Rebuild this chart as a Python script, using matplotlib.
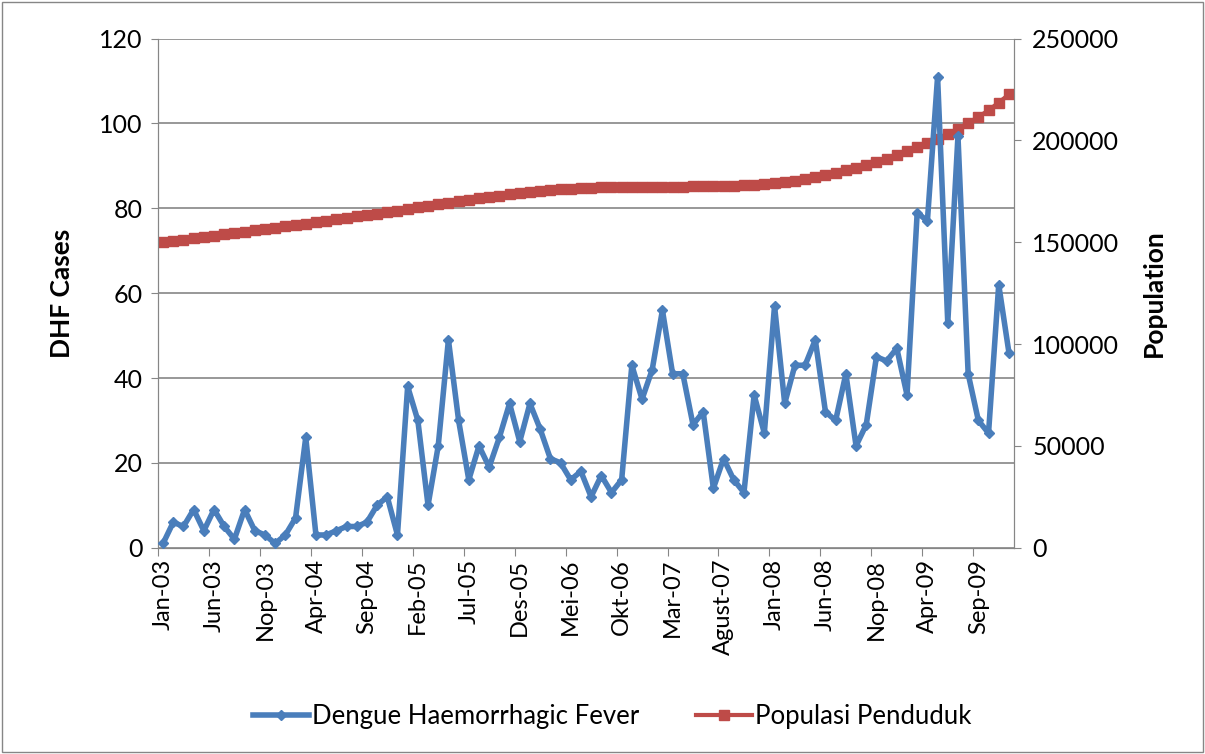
import matplotlib.pyplot as plt
from matplotlib.patches import Rectangle

plt.rcParams['font.family'] = ['Lato', 'DejaVu Sans']

# monthly data, Jan 2003 .. Dec 2009
months = ['Jan-03', 'Jun-03', 'Nop-03', 'Apr-04', 'Sep-04', 'Feb-05', 'Jul-05',
          'Des-05', 'Mei-06', 'Okt-06', 'Mar-07', 'Agust-07', 'Jan-08', 'Jun-08',
          'Nop-08', 'Apr-09', 'Sep-09']

dhf_cases = [1, 6, 5, 9, 4, 9, 5, 2, 9, 4,
             3, 1, 3, 7, 26, 3, 3, 4, 5, 5,
             6, 10, 12, 3, 38, 30, 10, 24, 49, 30,
             16, 24, 19, 26, 34, 25, 34, 28, 21, 20,
             16, 18, 12, 17, 13, 16, 43, 35, 42, 56,
             41, 41, 29, 32, 14, 21, 16, 13, 36, 27,
             57, 34, 43, 43, 49, 32, 30, 41, 24, 29,
             45, 44, 47, 36, 79, 77, 111, 53, 97, 41,
             30, 27, 62, 46]

population = [150000, 150650, 151300, 151950, 152600, 153250, 153900, 154550,
              155200, 155850, 156500, 157150, 157800, 158500, 159200, 159900,
              160600, 161300, 162000, 162700, 163400, 164100, 164800, 165500,
              166300, 167100, 167900, 168700, 169400, 170100, 170800, 171500,
              172200, 172900, 173500, 174100, 174600, 175100, 175600, 176000,
              176300, 176600, 176800, 177000, 177100, 177200, 177200, 177200,
              177200, 177200, 177200, 177300, 177400, 177500, 177600, 177700,
              177800, 178000, 178300, 178600, 179000, 179600, 180300, 181100,
              182000, 183000, 184100, 185300, 186600, 188000, 189500, 191100,
              192800, 194600, 196600, 198700, 200900, 203200, 205700, 208500,
              211500, 214800, 218600, 222600]

x = list(range(len(dhf_cases)))
grey = '#868686'
blue = '#4A7EBB'
red = '#BE4B48'

fig = plt.figure(figsize=(12.05, 7.54), dpi=100)
fig.patches.append(Rectangle((0.002, 0.002), 0.996, 0.996, transform=fig.transFigure,
                             fill=False, edgecolor=grey, linewidth=1))

ax = fig.add_axes([0.1311, 0.2736, 0.7104, 0.6752])
ax2 = ax.twinx()
ax3 = ax.twinx()  # top layer so the DHF line sits over the population line

# left axis: DHF cases, gridlines
ax.set_xlim(-0.5, len(x) - 0.5)
ax.set_ylim(0, 120)
ax.set_yticks(range(0, 121, 20))
ax.grid(axis='y', color=grey, linewidth=1.2)
ax.set_axisbelow(True)
ax.set_ylabel('DHF Cases', fontsize=19, fontweight='bold', labelpad=18)
ax.tick_params(axis='y', labelsize=18, length=5, color=grey, direction='out', pad=6)

# category axis: ticks between months, labels on every 5th month
ax.set_xticks([i - 0.5 for i in range(0, len(x), 5)])
ax.set_xticks(list(range(0, len(x), 5)), minor=True)
ax.set_xticklabels([])
ax.set_xticklabels(months, minor=True, rotation=90, fontsize=17)
ax.tick_params(axis='x', which='major', length=6, color=grey)
ax.tick_params(axis='x', which='minor', length=0, pad=8)

for a in (ax, ax2):
    for s in a.spines.values():
        s.set_color(grey)
    a.spines['top'].set_visible(False)

# right axis: population
ax2.plot(x, population, color=red, linewidth=3, marker='s', markersize=7.5,
         label='Populasi Penduduk')
ax2.set_ylim(0, 250000)
ax2.set_yticks(range(0, 250001, 50000))
ax2.set_ylabel('Population', fontsize=19, fontweight='bold', labelpad=16)
ax2.tick_params(axis='y', labelsize=18, length=5, color=grey, direction='out', pad=8)

ax3.plot(x, dhf_cases, color=blue, linewidth=4, marker='D', markersize=5,
         label='Dengue Haemorrhagic Fever')
ax3.set_ylim(0, 120)
ax3.set_axis_off()

h1, l1 = ax3.get_legend_handles_labels()
h2, l2 = ax2.get_legend_handles_labels()
fig.legend(h1 + h2, l1 + l2, loc='center', bbox_to_anchor=(0.508, 0.05), ncol=2,
           frameon=False, fontsize=18.5, numpoints=1, handlelength=2.2,
           handletextpad=0.1, columnspacing=2.2)

fig.savefig('out.png', dpi=100)
